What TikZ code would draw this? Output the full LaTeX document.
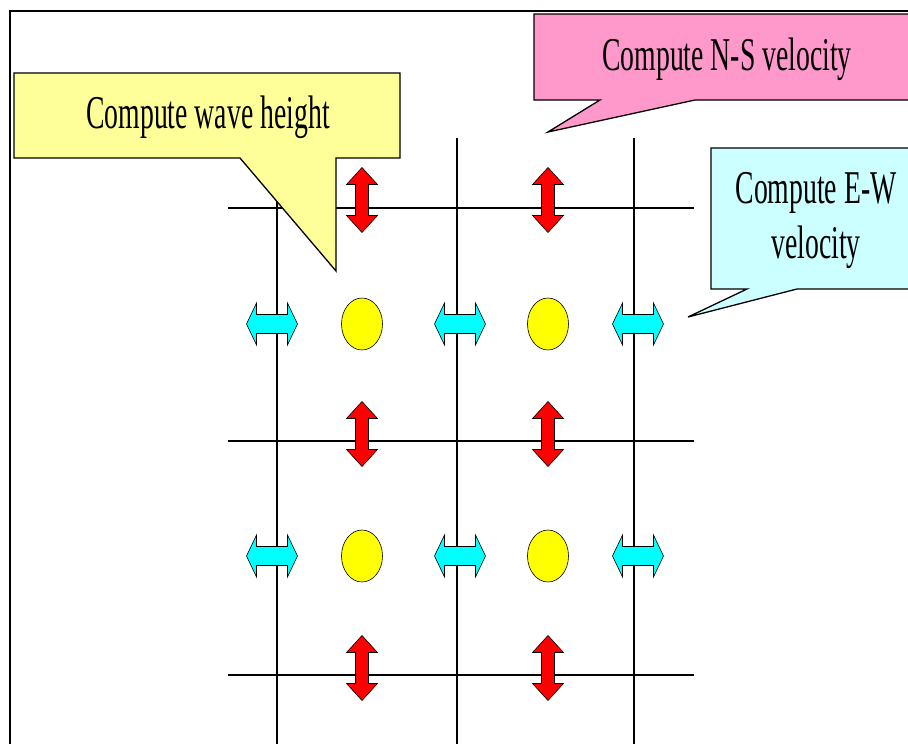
\documentclass[tikz,border=0pt]{standalone}
\usepackage{fontspec}
\setmainfont{Liberation Serif}
\definecolor{calloutyellow}{HTML}{FFFF99}
\definecolor{calloutpink}{HTML}{FF99CC}
\definecolor{calloutcyan}{HTML}{CCFFFF}
\definecolor{nsred}{HTML}{FF0000}
\definecolor{ewcyan}{HTML}{00FFFF}
\definecolor{dotyellow}{HTML}{FFFF00}
\tikzset{
  gridline/.style={line width=1.5pt, black},
  callout/.style={draw=black, line width=1.3pt, line join=miter},
  label/.style={font=\fontsize{47}{52}\selectfont, xscale=0.59, anchor=base, inner sep=0pt},
  nsarrow/.pic={\filldraw[fill=nsred, draw=black, line width=0.6pt]
     (0,-32.5) -- (15.5,-15.5) -- (6.5,-15.5) -- (6.5,15.5) -- (15.5,15.5) -- (0,32.5)
     -- (-15.5,15.5) -- (-6.5,15.5) -- (-6.5,-15.5) -- (-15.5,-15.5) -- cycle;},
  ewarrow/.pic={\filldraw[fill=ewcyan, draw=black, line width=0.6pt]
     (-25.5,0) -- (-15.5,-21) -- (-15.5,-9.5) -- (15.5,-9.5) -- (15.5,-21) -- (25.5,0)
     -- (15.5,21) -- (15.5,9.5) -- (-15.5,9.5) -- (-15.5,21) -- cycle;},
  dot/.style={fill=dotyellow, draw=black, line width=0.6pt}
}
\begin{document}
\begin{tikzpicture}[x=1pt,y=-1pt]
\useasboundingbox (0,0) rectangle (908,744);
\clip (0,0) rectangle (908,744);
% frame
\draw[line width=2pt] (10,760) -- (10,11) -- (920,11);
% grid
\foreach \gx in {277,457,634} \draw[gridline] (\gx,138) -- (\gx,760);
\foreach \gy in {208,441,675} \draw[gridline] (228,\gy) -- (694,\gy);
% N-S arrows
\foreach \ax in {362,548} {
  \foreach \ay in {200,434,668} \pic at (\ax,\ay) {nsarrow};
}
% E-W arrows
\foreach \ax in {272,460,638} {
  \foreach \ay in {324,556} \pic at (\ax,\ay) {ewarrow};
}
% height points
\foreach \ax in {362,548} {
  \foreach \ay in {324,556} \draw[dot] (\ax,\ay) ellipse [x radius=20.5pt, y radius=26pt];
}
% callouts
\draw[callout, fill=calloutyellow] (14,73) -- (400,73) -- (400,158) -- (336,158) -- (336,271) -- (240,158) -- (14,158) -- cycle;
\node[label] (wave) at (208,128) {Compute wave height};
\draw[callout, fill=calloutpink] (534,14) -- (915,14) -- (915,100) -- (695,100) -- (548,132) -- (600,100) -- (534,100) -- cycle;
\node[label] (ns) at (727,70) {Compute N-S velocity};
\draw[callout, fill=calloutcyan] (711,148) -- (915,148) -- (915,289) -- (797,289) -- (688,317) -- (747,289) -- (711,289) -- cycle;
\node[label] (ew1) at (816,203) {Compute E-W};
\node[label] (ew2) at (816,258) {velocity};
\end{tikzpicture}
\end{document}
